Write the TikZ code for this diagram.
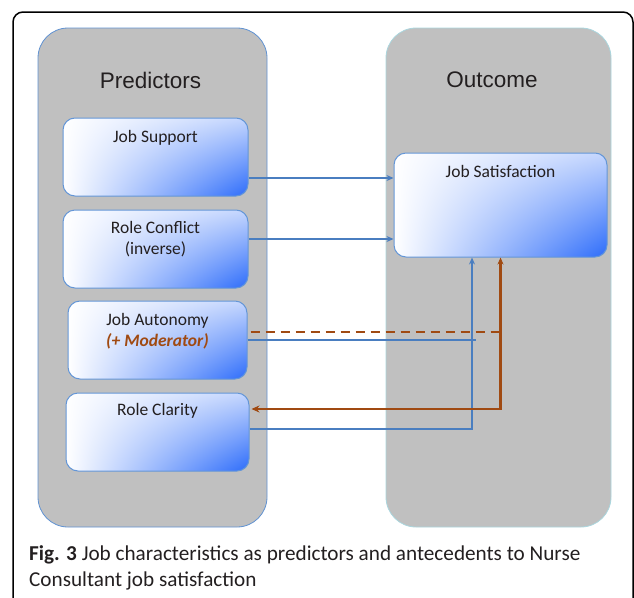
\documentclass[tikz,border=0pt]{standalone}
\usepackage{fontspec}
\setmainfont{Carlito}
\newfontfamily\headfont{Liberation Sans}
\usetikzlibrary{arrows.meta, positioning, shadings}

\definecolor{panelgray}{RGB}{192,192,192}
\definecolor{panelblue}{RGB}{96,146,210}
\definecolor{panelcyan}{RGB}{170,214,222}
\definecolor{linkblue}{RGB}{74,126,192}
\definecolor{linkbrown}{RGB}{160,74,18}
\definecolor{boxblue}{RGB}{45,108,250}
\definecolor{boxedge}{RGB}{100,150,215}
\definecolor{inktext}{RGB}{35,31,32}

\begin{document}
\begin{tikzpicture}[
        x=1pt, y=-1pt,
        panel/.style = {
            fill=panelgray,
            rounded corners=30pt,
            minimum height=499pt,
            inner sep=0pt,
            line width=0.8pt
        },
        title/.style = {
            font=\headfont\fontsize{22.5}{26}\selectfont,
            text=inktext
        },
        factor/.style = {
            draw=boxedge,
            line width=1pt,
            rounded corners=12pt,
            upper left=white,
            lower left=white,
            upper right=boxblue!28!white,
            lower right=boxblue,
            minimum height=78pt,
            inner sep=0pt
        },
        boxtext/.style = {
            font=\fontsize{17.5}{21}\selectfont,
            text=inktext,
            align=center,
            inner sep=0pt
        },
        bluelink/.style = {
            draw=linkblue,
            line width=1.6pt
        },
        brownlink/.style = {
            draw=linkbrown,
            line width=2.8pt
        }
    ]

    \useasboundingbox (0,0) rectangle (634,597);

    % outer frame, open at the bottom
    \draw[black, line width=1.5pt, rounded corners=10pt] (13,600) -- (13,12) -- (633,12) -- (633,600);

    % the two columns
    \node[panel, draw=panelblue, minimum width=229pt] (predpanel) at (152.5,277.5) {};
    \node[panel, draw=panelcyan, minimum width=225pt] (outpanel) at (498.5,277.5) {};

    \node[title] (predtitle) at (150.5,80) {Predictors};
    \node[title] (outtitle) at (492,80) {Outcome};

    % predictors
    \node[factor, minimum width=185pt] (jsup) at (155.5,157) {};
    \node[factor, minimum width=185pt] (rconf) at (155.5,249) {};
    \node[factor, minimum width=179pt] (jaut) at (157.5,340) {};
    \node[factor, minimum width=183pt] (rclar) at (157.5,432) {};

    % outcome
    \node[factor, minimum width=213pt, minimum height=104pt] (jsat) at (500.5,205) {};

    \node[boxtext, below=13pt of jsup.north] {Job Support};
    \node[boxtext, below=12pt of rconf.north] {Role Conflict\\(inverse)};
    \node[boxtext, below=13pt of jaut.north] {Job Autonomy\\\textcolor{linkbrown}{\textbf{\textit{(+ Moderator)}}}};
    \node[boxtext, below=11pt of rclar.north] {Role Clarity};
    \node[boxtext, below=13pt of jsat.north] {Job Satisfaction};

    % direct effects
    \coordinate (blueup) at ([xshift=-28.5pt]jsat.south);
    \draw[bluelink, -{Stealth[length=7pt, width=6pt]}] ([yshift=-21pt]jsup.east) -- ([yshift=-21pt]jsup.east -| jsat.west);
    \draw[bluelink, -{Stealth[length=7pt, width=6pt]}] ([yshift=10pt]rconf.east) -- ([yshift=10pt]rconf.east -| jsat.west);
    \draw[bluelink] (jaut.east) -- ([xshift=4pt]jaut.east -| blueup);
    \draw[bluelink, -{Stealth[length=7pt, width=6pt]}] ([yshift=3pt]rclar.east) -| (blueup);

    % moderation
    \draw[brownlink, dash pattern=on 9pt off 6pt] ([shift={(3pt,8pt)}]jaut.east) -- ([yshift=8pt]jaut.east -| jsat.south);
    \draw[brownlink, {Stealth[length=8pt, width=7pt]}-{Stealth[length=7pt, width=6pt]}] ([shift={(2pt,23pt)}]rclar.east) -| (jsat.south);

    % caption
    \node[anchor=north west, align=left, inner sep=0pt, text=inktext, font=\fontsize{21.2}{26}\selectfont] (caption) at (29,545) {\textbf{Fig. 3} Job characteristics as predictors and antecedents to Nurse\\Consultant job satisfaction};

\end{tikzpicture}
\end{document}
